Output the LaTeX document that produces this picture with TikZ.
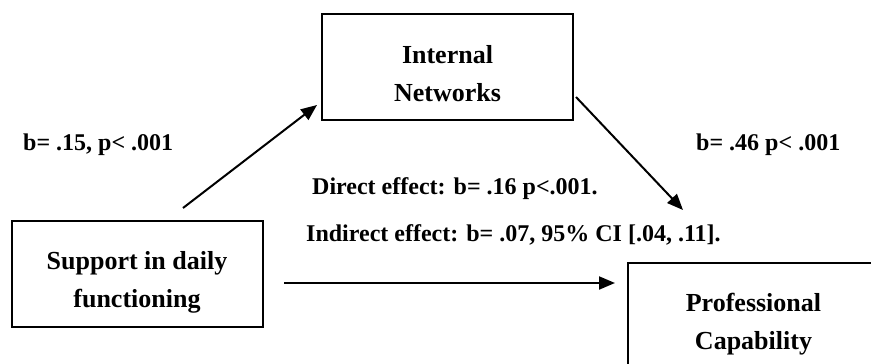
\documentclass[tikz,border=0pt]{standalone}
\usepackage{fontspec}
\setmainfont{Liberation Serif}
\usetikzlibrary{arrows.meta}
% two centred lines, with struts that keep the baselines where they belong
\newcommand{\boxlines}[2]{\rule{0pt}{34pt}#1\\#2\rule[-3pt]{0pt}{3pt}}
\begin{document}
\begin{tikzpicture}[x=1pt,y=-1pt,
  varbox/.style={draw, line width=2pt, minimum width=251pt, minimum height=106pt,
    inner sep=0pt, align=center, font=\fontsize{26}{38}\selectfont\bfseries},
  coef/.style={font=\fontsize{24}{28}\selectfont\bfseries, inner sep=0pt, anchor=base west},
  effectarrow/.style={line width=2pt, -{Triangle[length=16pt,width=13pt]}}]
\useasboundingbox (0,0) rectangle (871,364);
\clip (0,0) rectangle (871,364);

% variables
\node[varbox] (inet) at (447.5,67) {\boxlines{Internal}{Networks}};
\node[varbox] (supp) at (137,274) {\boxlines{Support in daily}{functioning}};
\node[varbox] (prof) at (753.5,316) {\boxlines{Professional}{Capability}};

% arrow end points
\coordinate (aS) at (183,208);
\coordinate (aI) at (317,105);
\coordinate (bI) at (576,97);
\coordinate (bP) at (683,210);
\coordinate (cS) at (284,283);
\coordinate (cP) at (615,283);

\draw[effectarrow] (aS) -- (aI);
\draw[effectarrow] (bI) -- (bP);
\draw[effectarrow] (cS) -- (cP);

% coefficients
\node[coef] (pathA) at (23,150) {b= .15, p< .001};
\node[coef] (pathB) at (696,150) {b= .46 p< .001};
\node[coef] (direct) at (312,194) {Direct effect: b= .16 p<.001.};
\node[coef] (indirect) at (306,241) {Indirect effect: b= .07, 95\% CI [.04, .11].};
\end{tikzpicture}
\end{document}
